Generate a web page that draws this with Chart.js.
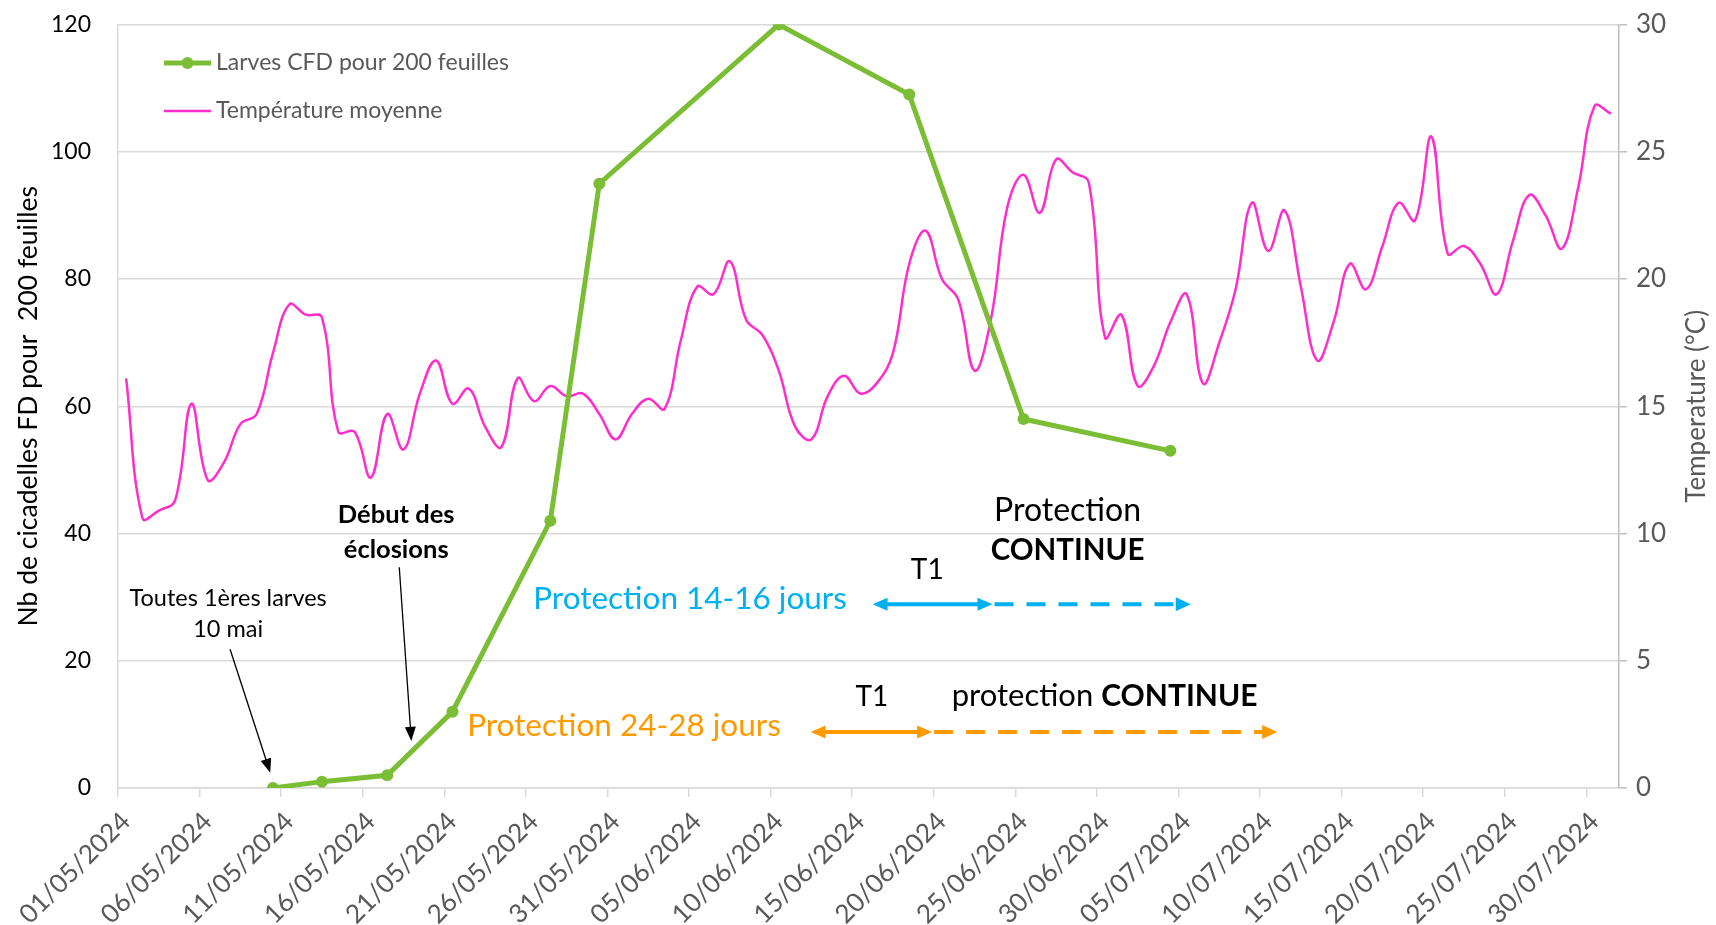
<!DOCTYPE html>
<html lang="fr">
<head>
<meta charset="utf-8">
<title>Larves CFD et température moyenne</title>
<script src="https://cdn.jsdelivr.net/npm/chart.js@4.4.1/dist/chart.umd.min.js"></script>
<style>
  html, body { margin: 0; padding: 0; background: #fff; }
  #cadre { width: 1716px; height: 925px; }
</style>
</head>
<body>
<div id="cadre"><canvas id="myChart" width="1716" height="925"></canvas></div>
<script>
// jours du 01/05 au 31/07/2024
const jours = [
  "01/05/2024","02/05/2024","03/05/2024","04/05/2024","05/05/2024","06/05/2024","07/05/2024","08/05/2024",
  "09/05/2024","10/05/2024","11/05/2024","12/05/2024","13/05/2024","14/05/2024","15/05/2024","16/05/2024",
  "17/05/2024","18/05/2024","19/05/2024","20/05/2024","21/05/2024","22/05/2024","23/05/2024","24/05/2024",
  "25/05/2024","26/05/2024","27/05/2024","28/05/2024","29/05/2024","30/05/2024","31/05/2024",
  "01/06/2024","02/06/2024","03/06/2024","04/06/2024","05/06/2024","06/06/2024","07/06/2024","08/06/2024",
  "09/06/2024","10/06/2024","11/06/2024","12/06/2024","13/06/2024","14/06/2024","15/06/2024","16/06/2024",
  "17/06/2024","18/06/2024","19/06/2024","20/06/2024","21/06/2024","22/06/2024","23/06/2024","24/06/2024",
  "25/06/2024","26/06/2024","27/06/2024","28/06/2024","29/06/2024","30/06/2024",
  "01/07/2024","02/07/2024","03/07/2024","04/07/2024","05/07/2024","06/07/2024","07/07/2024","08/07/2024",
  "09/07/2024","10/07/2024","11/07/2024","12/07/2024","13/07/2024","14/07/2024","15/07/2024","16/07/2024",
  "17/07/2024","18/07/2024","19/07/2024","20/07/2024","21/07/2024","22/07/2024","23/07/2024","24/07/2024",
  "25/07/2024","26/07/2024","27/07/2024","28/07/2024","29/07/2024","30/07/2024","31/07/2024"
];

// température moyenne journalière (°C)
const temperature = [
  16.1, 10.6, 10.9, 11.3, 15.1, 12.1, 12.8, 14.3, 14.7, 17.1, 19.0, 18.6, 18.5, 14.0, 14.0, 12.2,
  14.7, 13.3, 15.5, 16.8, 15.1, 15.7, 14.2, 13.4, 16.1, 15.2, 15.8, 15.4, 15.5, 14.7, 13.7,
  14.7, 15.3, 14.9, 17.6, 19.7, 19.4, 20.7, 18.4, 17.8, 16.4, 14.2, 13.7, 15.4, 16.2, 15.5, 15.9,
  17.1, 20.6, 21.9, 20.0, 19.2, 16.4, 18.4, 22.8, 24.1, 22.6, 24.7, 24.2, 23.8, 17.7,
  18.6, 15.8, 16.6, 18.3, 19.4, 15.9, 17.5, 19.6, 23.0, 21.1, 22.7, 19.7, 16.8, 18.3, 20.6, 19.6,
  21.3, 23.0, 22.3, 25.6, 21.0, 21.3, 20.6, 19.4, 21.5, 23.3, 22.5, 21.2, 23.6, 26.8, 26.5
];

// comptages de larves
const datesLarves = ["10/05/2024","13/05/2024","17/05/2024","21/05/2024","27/05/2024",
                     "30/05/2024","10/06/2024","18/06/2024","25/06/2024","04/07/2024"];
const larves = [0, 1, 2, 12, 42, 95, 120, 109, 58, 53];

// étiquettes de l'axe des dates
const etiquettesX = ["01/05/2024","06/05/2024","11/05/2024","16/05/2024","21/05/2024","26/05/2024",
  "31/05/2024","05/06/2024","10/06/2024","15/06/2024","20/06/2024","25/06/2024","30/06/2024",
  "05/07/2024","10/07/2024","15/07/2024","20/07/2024","25/07/2024","30/07/2024"];
const ticksGauche = [0, 20, 40, 60, 80, 100, 120];
const ticksDroite = [0, 5, 10, 15, 20, 25, 30];

const VERT = '#7BBE35';
const ROSE = '#FF2ECB';
const BLEU = '#00B0F0';
const ORANGE = '#FF9900';
const GRIS = '#595959';
const POLICE = 'Lato';

// textes posés sur le graphique (x en jours depuis le 01/05, y en nb de larves)
const notes = [
  { t: 'Toutes 1ères larves', x: 6.75, y: 29.8, taille: 23.5 },
  { t: '10 mai', x: 6.75, y: 24.9, taille: 23.5 },
  { t: 'Début des', x: 17.05, y: 43.0, taille: 25.5, gras: true },
  { t: 'éclosions', x: 17.05, y: 37.5, taille: 25.5, gras: true },
  { t: 'Protection 14-16 jours', x: 25.45, y: 29.8, taille: 31.5, couleur: BLEU, align: 'left' },
  { t: 'T1', x: 49.6, y: 34.3, taille: 28 },
  { t: 'Protection', x: 58.2, y: 43.6, taille: 32 },
  { t: 'CONTINUE', x: 58.2, y: 37.3, taille: 29.5, gras: true },
  { t: 'Protection 24-28 jours', x: 21.4, y: 9.7, taille: 31.5, couleur: ORANGE, align: 'left' },
  { t: 'T1', x: 46.2, y: 14.3, taille: 28 }
];
const flechesNoires = [
  { de: [6.87, 21.8], a: [9.33, 2.4] },
  { de: [17.24, 34.7], a: [17.98, 7.4] }
];
const flechesT1 = [
  { couleur: BLEU, y: 28.9, debut: 46.25, t1: 53.6, fin: 65.75 },
  { couleur: ORANGE, y: 8.8, debut: 42.45, t1: 49.9, fin: 71.05 }
];

function pointe(ctx, x, y, angle, long, larg) {
  ctx.save();
  ctx.translate(x, y);
  ctx.rotate(angle);
  ctx.beginPath();
  ctx.moveTo(0, 0);
  ctx.lineTo(-long, -larg / 2);
  ctx.lineTo(-long, larg / 2);
  ctx.closePath();
  ctx.fill();
  ctx.restore();
}

const habillage = {
  id: 'habillage',
  afterDraw(chart) {
    const ctx = chart.ctx;
    const sx = chart.scales.x, sy = chart.scales.y;
    const px = u => sx.getPixelForValue(u);
    const py = v => sy.getPixelForValue(v);
    ctx.save();

    // légende
    ctx.lineCap = 'butt';
    ctx.strokeStyle = VERT; ctx.lineWidth = 5;
    ctx.beginPath(); ctx.moveTo(164, 63); ctx.lineTo(211, 63); ctx.stroke();
    ctx.fillStyle = VERT;
    ctx.beginPath(); ctx.arc(187.5, 63, 6, 0, Math.PI * 2); ctx.fill();
    ctx.strokeStyle = ROSE; ctx.lineWidth = 2.5;
    ctx.beginPath(); ctx.moveTo(164, 111); ctx.lineTo(211, 111); ctx.stroke();
    ctx.fillStyle = GRIS;
    ctx.font = '23px ' + POLICE;
    ctx.textAlign = 'left'; ctx.textBaseline = 'middle';
    ctx.fillText('Larves CFD pour 200 feuilles', 216, 63);
    ctx.fillText('Température moyenne', 216, 111);

    // titre de l'axe de droite, lu de bas en haut
    ctx.save();
    ctx.translate(1697, (chart.chartArea.top + chart.chartArea.bottom) / 2);
    ctx.rotate(-Math.PI / 2);
    ctx.textAlign = 'center';
    ctx.font = '26px ' + POLICE;
    ctx.fillText('Temperature (°C)', 0, 0);
    ctx.restore();

    // textes
    notes.forEach(n => {
      ctx.font = (n.gras ? 'bold ' : '') + n.taille + 'px ' + POLICE;
      ctx.fillStyle = n.couleur || '#000';
      ctx.textAlign = n.align || 'center';
      ctx.fillText(n.t, px(n.x), py(n.y));
    });
    // "protection CONTINUE"
    let xx = px(51.1);
    const yy = py(14.4);
    ctx.fillStyle = '#000'; ctx.textAlign = 'left';
    ctx.font = '31px ' + POLICE;
    ctx.fillText('protection ', xx, yy);
    xx += ctx.measureText('protection ').width;
    ctx.font = 'bold 30px ' + POLICE;
    ctx.fillText('CONTINUE', xx, yy);

    // flèches noires fines
    ctx.strokeStyle = '#000'; ctx.fillStyle = '#000'; ctx.lineWidth = 1.3;
    flechesNoires.forEach(f => {
      const x1 = px(f.de[0]), y1 = py(f.de[1]), x2 = px(f.a[0]), y2 = py(f.a[1]);
      const ang = Math.atan2(y2 - y1, x2 - x1);
      ctx.beginPath();
      ctx.moveTo(x1, y1);
      ctx.lineTo(x2 - 12 * Math.cos(ang), y2 - 12 * Math.sin(ang));
      ctx.stroke();
      pointe(ctx, x2, y2, ang, 14, 11);
    });

    // flèches de protection
    flechesT1.forEach(f => {
      const y = py(f.y), xa = px(f.debut), xb = px(f.t1), xc = px(f.fin);
      ctx.strokeStyle = f.couleur; ctx.fillStyle = f.couleur; ctx.lineWidth = 4;
      ctx.setLineDash([]);
      ctx.beginPath(); ctx.moveTo(xa + 10, y); ctx.lineTo(xb - 10, y); ctx.stroke();
      pointe(ctx, xa, y, Math.PI, 15, 13);
      pointe(ctx, xb, y, 0, 15, 13);
      ctx.setLineDash([19, 13]);
      ctx.beginPath(); ctx.moveTo(xb + 2, y); ctx.lineTo(xc - 12, y); ctx.stroke();
      ctx.setLineDash([]);
      pointe(ctx, xc, y, 0, 15, 14);
    });

    ctx.restore();
  }
};

function dessiner() {
  const pointsTemp = temperature.map((t, i) => ({ x: i + 0.5, y: t }));
  const pointsLarves = larves.map((v, i) => ({ x: jours.indexOf(datesLarves[i]) + 0.5, y: v }));

  new Chart('myChart', {
    type: 'line',
    data: {
      datasets: [{
        label: 'Larves CFD pour 200 feuilles',
        data: pointsLarves,
        yAxisID: 'y',
        borderColor: VERT,
        backgroundColor: VERT,
        borderWidth: 5,
        pointRadius: 6,
        pointBorderWidth: 0,
        tension: 0
      }, {
        label: 'Température moyenne',
        data: pointsTemp,
        yAxisID: 'y1',
        borderColor: ROSE,
        borderWidth: 2.5,
        pointRadius: 0,
        tension: 0.4
      }]
    },
    options: {
      responsive: false,
      animation: false,
      layout: { padding: { top: 24, left: 0, right: 0, bottom: 0 } },
      plugins: { legend: { display: false }, tooltip: { enabled: false } },
      scales: {
        x: {
          type: 'linear',
          min: 0,
          max: jours.length,
          afterBuildTicks: s => { s.ticks = etiquettesX.map(l => ({ value: jours.indexOf(l) })); },
          afterFit: s => { s.height = 137; },
          grid: { drawOnChartArea: false, color: '#D9D9D9', lineWidth: 1.5, tickLength: 9 },
          border: { color: '#D9D9D9', width: 1.5 },
          ticks: {
            color: GRIS, font: { family: POLICE, size: 26 },
            minRotation: 45, maxRotation: 45, autoSkip: false, padding: 9, labelOffset: 8,
            callback: v => jours[v]
          }
        },
        y: {
          position: 'left',
          min: 0, max: 120,
          afterBuildTicks: s => { s.ticks = ticksGauche.map(v => ({ value: v })); },
          afterFit: s => { s.width = 118; },
          grid: { color: '#D9D9D9', lineWidth: 1.5, drawTicks: true, tickLength: 24, tickColor: 'rgba(0,0,0,0)' },
          border: { color: '#D9D9D9', width: 1.5 },
          ticks: { color: '#000', font: { family: POLICE, size: 23 }, padding: 3 },
          title: {
            display: true, text: 'Nb de cicadelles FD pour  200 feuilles', color: '#000',
            font: { family: POLICE, size: 26.5 }, padding: { top: 13, bottom: 0 }
          }
        },
        y1: {
          position: 'right',
          min: 0, max: 30,
          afterBuildTicks: s => { s.ticks = ticksDroite.map(v => ({ value: v })); },
          afterFit: s => { s.width = 97; },
          grid: { drawOnChartArea: false, color: '#BFBFBF', lineWidth: 1.5, tickLength: 8 },
          border: { color: '#BFBFBF', width: 1.5 },
          ticks: { color: GRIS, font: { family: POLICE, size: 26 }, padding: 9 }
        }
      }
    },
    plugins: [habillage]
  });
}

Promise.all([
  document.fonts.load('23px Lato'),
  document.fonts.load('bold 23px Lato')
]).then(dessiner, dessiner);
</script>
</body>
</html>
